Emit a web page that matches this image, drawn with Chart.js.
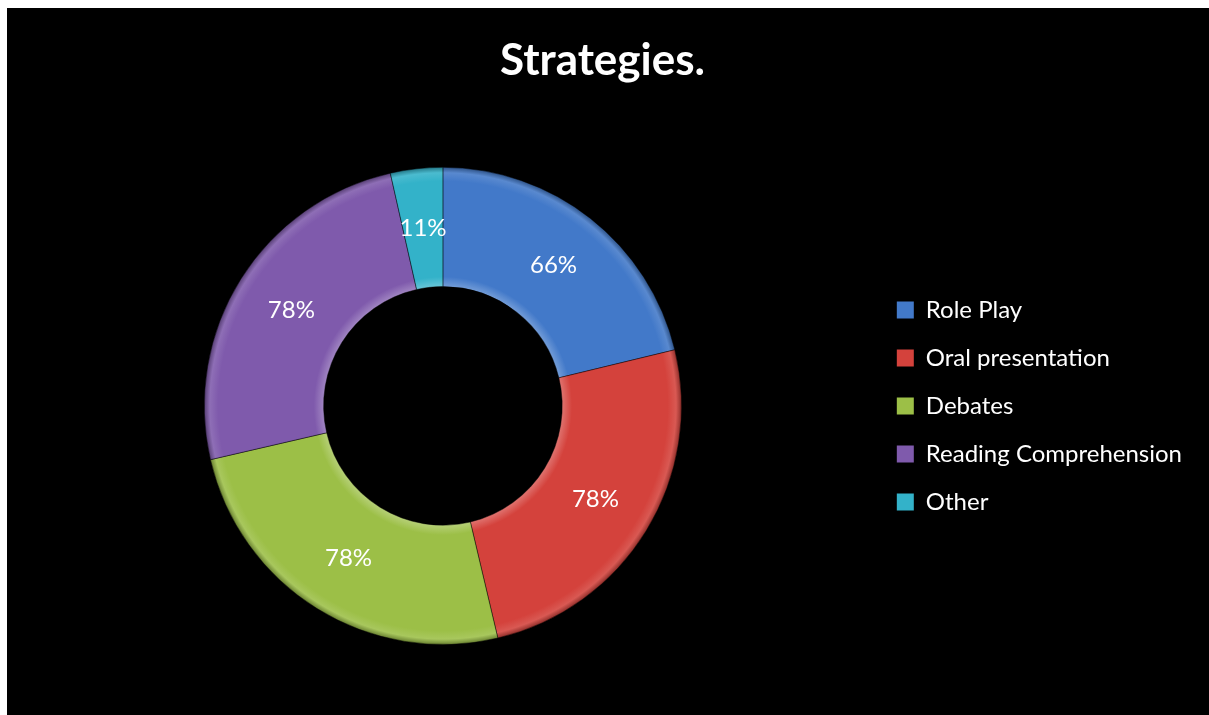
<!DOCTYPE html>
<html>
<head>
<meta charset="utf-8">
<script src="https://cdn.jsdelivr.net/npm/chart.js@4.4.1/dist/chart.umd.min.js"></script>
<style>
  html, body { margin: 0; padding: 0; background: #fff; }
  #wrap { position: absolute; left: 7px; top: 8px; width: 1202px; height: 707px; background: #000; }
</style>
</head>
<body>
<div id="wrap"><canvas id="chart"></canvas></div>
<script>
const labels = ['Role Play', 'Oral presentation', 'Debates', 'Reading Comprehension', 'Other'];
const values = [66, 78, 78, 78, 11];
const colors = ['#4279c9', '#d4423c', '#9cbf47', '#7f5aac', '#33b2c9'];

// lighten / darken a hex colour
function shade(hex, amt) {
    const n = parseInt(hex.slice(1), 16);
    const f = c => Math.max(0, Math.min(255, Math.round(c + (amt > 0 ? (255 - c) * amt : c * amt))));
    const r = f(n >> 16), g = f((n >> 8) & 255), b = f(n & 255);
    return `rgb(${r},${g},${b})`;
}

// soft bevel: radial gradient across the ring
function bevel(context) {
    const chart = context.chart;
    const base = colors[context.dataIndex];
    const area = chart.chartArea;
    if (!area) return base;
    const cx = (area.left + area.right) / 2;
    const cy = (area.top + area.bottom) / 2;
    const outer = Math.min(area.right - area.left, area.bottom - area.top) / 2;
    const inner = outer * 0.5;
    const g = chart.ctx.createRadialGradient(cx, cy, inner, cx, cy, outer);
    g.addColorStop(0, shade(base, 0.25));
    g.addColorStop(0.08, base);
    g.addColorStop(0.88, base);
    g.addColorStop(0.95, shade(base, 0.12));
    g.addColorStop(1, shade(base, -0.35));
    return g;
}

const sliceLabels = {
    id: 'sliceLabels',
    afterDatasetsDraw(chart) {
        const ctx = chart.ctx;
        const meta = chart.getDatasetMeta(0);
        ctx.save();
        ctx.font = '24px Lato';
        ctx.fillStyle = '#fff';
        ctx.textAlign = 'center';
        ctx.textBaseline = 'middle';
        meta.data.forEach((arc, i) => {
            const p = arc.tooltipPosition();
            ctx.fillText(values[i] + '%', p.x, p.y);
        });
        ctx.restore();
    }
};

new Chart(document.getElementById('chart').getContext('2d'), {
    type: 'doughnut',
    data: {
        labels: labels,
        datasets: [{
            data: values,
            backgroundColor: bevel,
            borderColor: 'rgba(0,0,0,0.45)',
            borderWidth: 1
        }]
    },
    options: {
        responsive: true,
        maintainAspectRatio: false,
        animation: false,
        cutout: '50%',
        layout: { padding: { left: 6, right: 17, top: 0, bottom: 70 } },
        plugins: {
            title: {
                display: true,
                text: 'Strategies.',
                color: '#fff',
                font: { family: 'Lato', size: 44, weight: 'bold' },
                padding: { top: 26, bottom: 80 }
            },
            legend: {
                position: 'right',
                fullSize: false,
                labels: {
                    color: '#fff',
                    font: { family: 'Lato', size: 24 },
                    boxWidth: 17,
                    boxHeight: 17,
                    padding: 24,
                    generateLabels(chart) {
                        return labels.map((l, i) => ({
                            text: l,
                            fillStyle: colors[i],
                            strokeStyle: colors[i],
                            lineWidth: 0,
                            fontColor: '#fff',
                            index: i,
                            hidden: false
                        }));
                    }
                }
            },
            tooltip: { enabled: false }
        }
    },
    plugins: [sliceLabels]
});
</script>
</body>
</html>
